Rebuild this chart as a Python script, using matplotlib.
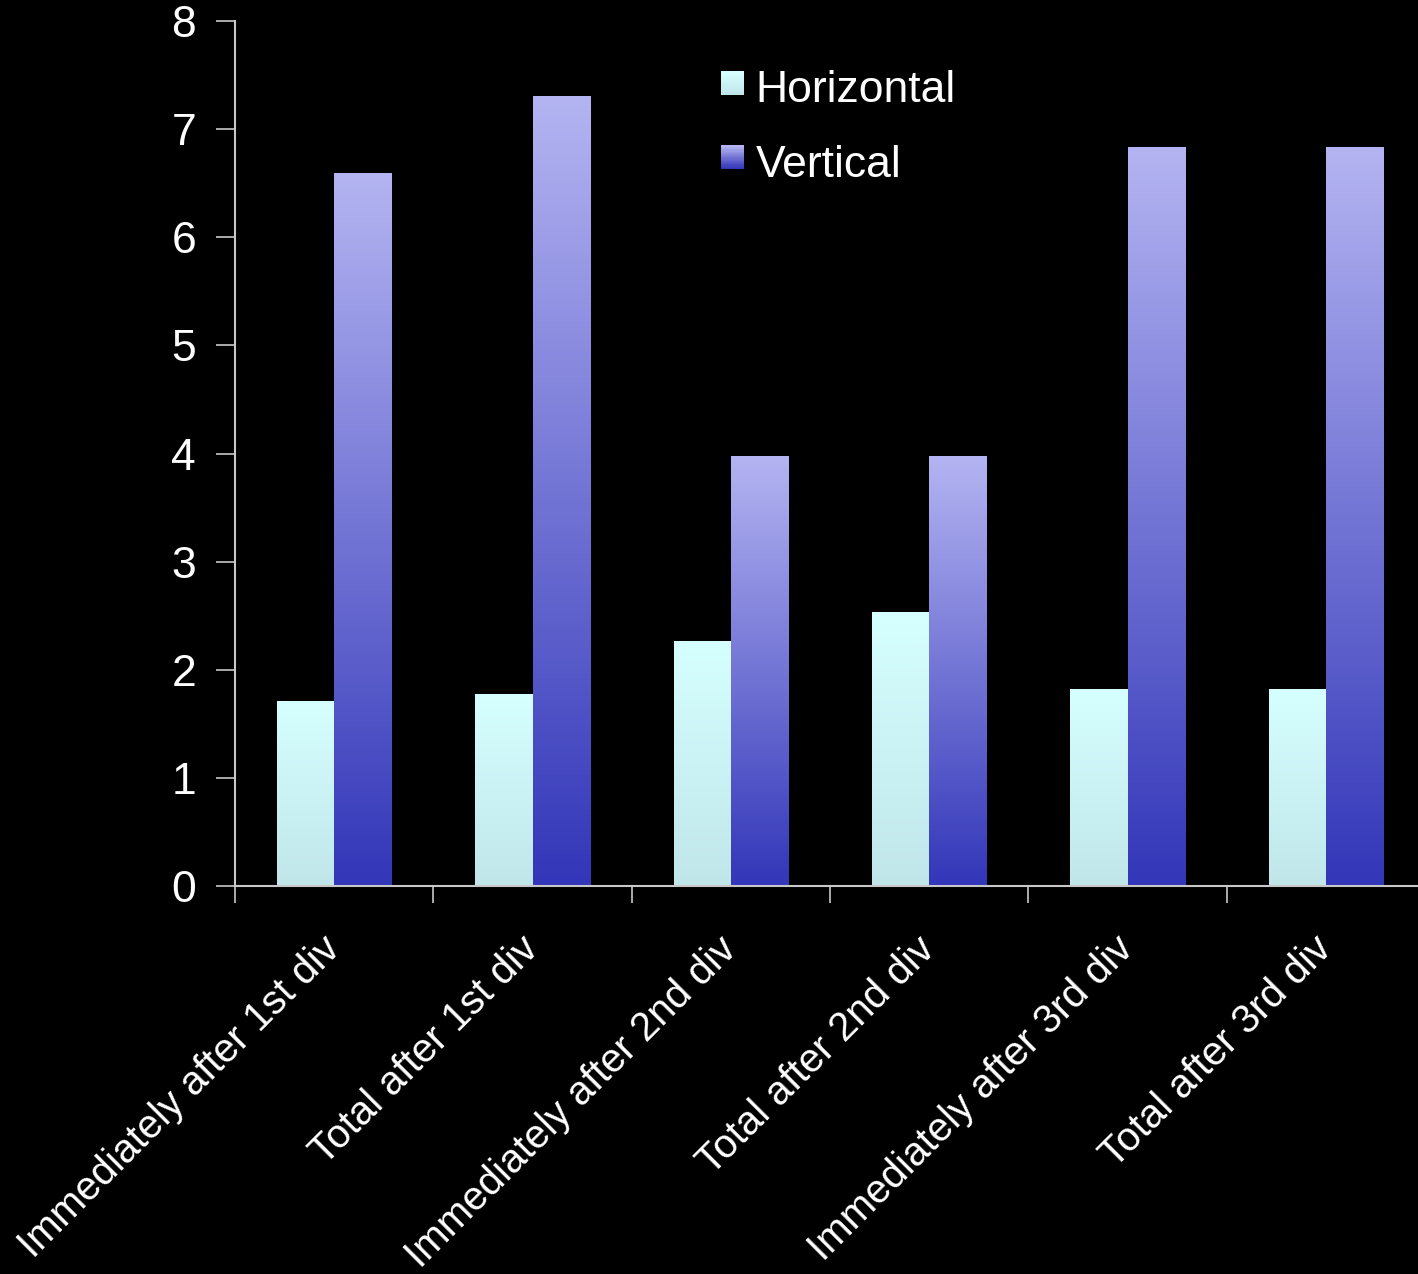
import numpy as np
import matplotlib.pyplot as plt
import matplotlib.transforms as mtransforms
from matplotlib.colors import LinearSegmentedColormap
from matplotlib.legend_handler import HandlerBase
from matplotlib.patches import Rectangle

categories = [
    "Immediately after 1st div",
    "Total after 1st div",
    "Immediately after 2nd div",
    "Total after 2nd div",
    "Immediately after 3rd div",
    "Total after 3rd div",
]
horizontal = [1.71, 1.77, 2.26, 2.53, 1.82, 1.82]
vertical = [6.59, 7.30, 3.97, 3.97, 6.83, 6.83]

plt.rcParams["font.family"] = ["Liberation Sans", "DejaVu Sans"]

# bottom colour -> top colour for each series
h_cmap = LinearSegmentedColormap.from_list("h", ["#c0e6ea", "#d6ffff"])
v_cmap = LinearSegmentedColormap.from_list("v", ["#3236b8", "#b4b4f2"])

fig = plt.figure(figsize=(14.18, 12.74), dpi=100, facecolor="black")
ax = fig.add_axes([235 / 1418, 388 / 1274, 1190 / 1418, 865 / 1274])
ax.set_facecolor("black")

x = np.arange(len(categories))
w = 0.288
grad = np.linspace(0, 1, 256).reshape(-1, 1)


def gradient_bars(xs, vals, cmap):
    bars = ax.bar(xs, vals, w, color="none", edgecolor="none")
    for b in bars:
        bx, by = b.get_x(), b.get_y()
        bw, bh = b.get_width(), b.get_height()
        ax.imshow(grad, cmap=cmap, origin="lower", aspect="auto",
                  extent=[bx, bx + bw, by, by + bh], zorder=2)
    return bars


gradient_bars(x - w / 2, horizontal, h_cmap)
gradient_bars(x + w / 2, vertical, v_cmap)

ax.set_xlim(-0.5, len(categories) - 0.5)
ax.set_ylim(0, 8)
ax.set_yticks(range(0, 9))

ax.set_xticks(x)
ax.set_xticklabels(categories, rotation=45, ha="right", va="center",
                   rotation_mode="anchor")
shift = mtransforms.ScaledTranslation(-8 / 100, 0, fig.dpi_scale_trans)
for lab in ax.get_xticklabels():
    lab.set_transform(lab.get_transform() + shift)
ax.set_xticks(np.arange(-0.5, len(categories), 1), minor=True)
ax.tick_params(axis="x", which="major", length=0, pad=41, labelsize=29,
               labelcolor="white")
ax.tick_params(axis="x", which="minor", length=12, width=1.2, color="#c8c8c8",
               direction="out")
ax.tick_params(axis="y", length=14, width=1.2, color="#c8c8c8", pad=14,
               labelsize=32, labelcolor="white")

for s in ["top", "right"]:
    ax.spines[s].set_visible(False)
for s in ["left", "bottom"]:
    ax.spines[s].set_color("#c8c8c8")
    ax.spines[s].set_linewidth(1.5)
    ax.spines[s].set_zorder(3)


class GradHandler(HandlerBase):
    def __init__(self, cmap):
        super().__init__()
        self.cmap = cmap

    def create_artists(self, legend, orig_handle, xdescent, ydescent,
                       width, height, fontsize, trans):
        side = width
        n = 20
        y0 = -ydescent + (height - side) / 2 + 0.12 * height
        arts = []
        for i in range(n):
            r = Rectangle((0, y0 + side * i / n), side, side / n + 0.3,
                          facecolor=self.cmap(i / (n - 1)), edgecolor="none",
                          transform=trans)
            arts.append(r)
        return arts


hh = Rectangle((0, 0), 1, 1)
vh = Rectangle((0, 0), 1, 1)
leg = ax.legend([hh, vh], ["Horizontal", "Vertical"],
                handler_map={hh: GradHandler(h_cmap), vh: GradHandler(v_cmap)},
                loc="upper left", bbox_to_anchor=(0.382, 0.979), frameon=False,
                fontsize=32, labelcolor="white", handlelength=0.52,
                handletextpad=0.27, labelspacing=0.75, borderpad=0.2)

fig.savefig("out.png", dpi=100, facecolor="black")
